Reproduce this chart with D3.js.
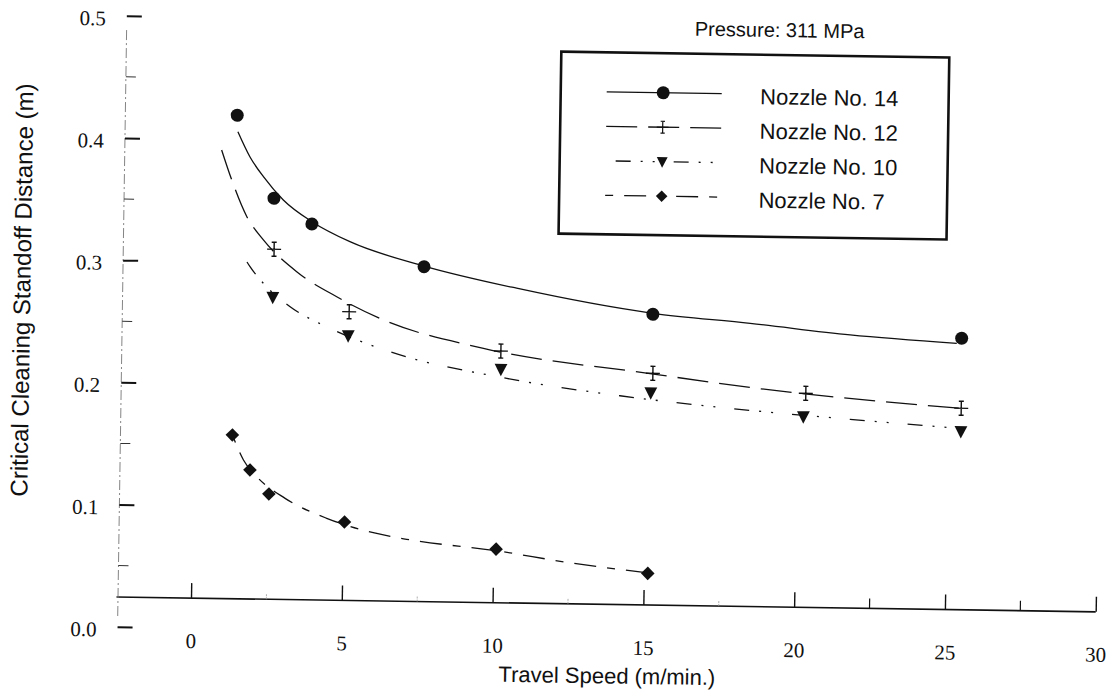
<!DOCTYPE html>
<meta charset="utf-8">
<style>
    body { margin: 0; background: #fff; }
    svg { display: block; }
    .num { font-family: 'Liberation Serif', 'Times New Roman', serif; font-size: 21px; fill: #111; }
    .lbl { font-family: 'Liberation Sans', Arial, sans-serif; fill: #111; }
</style>
<body>
<svg id="chart"></svg>
<script src="https://cdn.jsdelivr.net/npm/d3@7/dist/d3.min.js"></script>
<script>

// measured points (travel speed m/min, standoff distance m)
var speed14 = [1.29, 2.55, 3.82, 7.56, 15.17, 25.42];
var dist14 = [0.420, 0.3525, 0.3319, 0.2984, 0.2623, 0.2465];
var speed12 = [2.58, 5.10, 10.15, 15.20, 20.28, 25.44];
var dist12 = [0.3108, 0.2606, 0.2303, 0.2140, 0.1995, 0.1892];
var speed10 = [2.56, 5.08, 10.16, 15.14, 20.21, 25.44];
var dist10 = [0.2714, 0.2410, 0.2154, 0.1981, 0.1804, 0.1701];
var speed7 = [1.29, 1.89, 2.53, 5.05, 10.09, 15.13];
var dist7 = [0.1583, 0.1299, 0.1105, 0.0885, 0.0682, 0.0502];

// fitted curves
var fitSpeed14 = [1.32, 1.73, 2.19, 2.86, 3.82, 5.09, 7.56, 10.64, 15.17, 18.40, 21.72, 25.26];
var fitDist14 = [0.4065, 0.3862, 0.3700, 0.3512, 0.3338, 0.3179, 0.2989, 0.2819, 0.2631, 0.2561, 0.2478, 0.2423];
var fitSpeed12 = [0.79, 1.14, 1.66, 2.22, 3.34, 4.68, 6.24, 9.57, 15.22, 18.43, 22.86, 25.44];
var fitDist12 = [0.3914, 0.3670, 0.3371, 0.3183, 0.2927, 0.2727, 0.2543, 0.2323, 0.2134, 0.2036, 0.1936, 0.1892];
var fitSpeed10 = [1.51, 1.79, 2.24, 3.14, 4.47, 6.47, 10.36, 14.12, 17.89, 21.76, 25.25];
var fitDist10 = [0.3071, 0.2962, 0.2828, 0.2640, 0.2468, 0.2284, 0.2080, 0.1952, 0.1860, 0.1788, 0.1730];
var fitSpeed7 = [1.29, 1.67, 2.12, 3.07, 4.46, 6.01, 7.12, 10.09, 12.52, 15.13];
var fitDist7 = [0.1583, 0.1380, 0.1245, 0.1071, 0.0913, 0.0801, 0.0751, 0.0669, 0.0580, 0.0507];

var xTicks = [0, 5, 10, 15, 20, 25, 30];
var xMinorFaint = [2.5, 7.5, 12.5, 17.5];
var xMinor = [22.5, 27.5];
var yTicks = [0, 0.1, 0.2, 0.3, 0.4, 0.5];
var yMinor = [0.05, 0.15, 0.25, 0.35, 0.45];
var nozzleNames = ["Nozzle No. 14", "Nozzle No. 12", "Nozzle No. 10", "Nozzle No. 7"];

var width = 1111, height = 696;

var svg = d3.select("#chart").attr("width", width).attr("height", height);
svg.append("rect").attr("width", width).attr("height", height).attr("fill", "#fff");

// the scanned page is a bit tilted -> rotate everything about the axis corner
var g = svg.append("g").attr("transform", "translate(118,597) rotate(0.87)");

var x = d3.scaleLinear().domain([0, 30]).range([73, 977.8]);
var y = d3.scaleLinear().domain([0, 0.5]).range([29.7, -581.3]);

// X axis (ticks point up, line sits above the 0.0 level like in the original)
var xa = g.append("g")
    .call(d3.axisBottom(x).tickValues(xTicks).tickSize(-15).tickPadding(35).tickFormat(d3.format("d")));
xa.select(".domain").remove();
xa.selectAll("line").attr("stroke", "#111").attr("stroke-width", 1.4);
xa.selectAll("text").attr("class", "num");
xa.attr("font-size", null).attr("font-family", null);

g.append("line")
    .attr("x1", -1.5).attr("x2", x(30)).attr("y1", 0).attr("y2", 0)
    .attr("stroke", "#111").attr("stroke-width", 1.6);

g.selectAll(".xminorfaint").data(xMinorFaint).enter().append("line")
    .attr("x1", function (d) { return x(d); }).attr("x2", function (d) { return x(d); })
    .attr("y1", 0).attr("y2", -6)
    .attr("stroke", "#999").attr("stroke-width", 0.8).attr("stroke-dasharray", "2,1");
g.selectAll(".xminor").data(xMinor).enter().append("line")
    .attr("x1", function (d) { return x(d); }).attr("x2", function (d) { return x(d); })
    .attr("y1", 0).attr("y2", -10)
    .attr("stroke", "#111").attr("stroke-width", 1.2);

// Y axis: faint broken line, ticks point right
g.append("line")
    .attr("x1", 0).attr("x2", 0).attr("y1", -567).attr("y2", 20)
    .attr("stroke", "#777").attr("stroke-width", 0.9).attr("stroke-dasharray", "10,3,2,3");

var ya = g.append("g")
    .call(d3.axisLeft(y).tickValues(yTicks).tickSize(-15).tickPadding(21).tickFormat(d3.format(".1f")));
ya.select(".domain").remove();
ya.selectAll("line").attr("stroke", "#111").attr("stroke-width", 2);
ya.selectAll("text").attr("class", "num").attr("dy", "0.45em");
ya.attr("font-size", null).attr("font-family", null);

g.selectAll(".yminor").data(yMinor).enter().append("line")
    .attr("x1", 0).attr("x2", 10)
    .attr("y1", function (d) { return y(d); }).attr("y2", function (d) { return y(d); })
    .attr("stroke", "#333").attr("stroke-width", 1);

// titles
g.append("text").attr("class", "lbl")
    .attr("transform", "translate(-100.7,-305.5) rotate(-90)")
    .attr("text-anchor", "middle").attr("dy", "0.35em")
    .attr("font-size", 24)
    .text("Critical Cleaning Standoff Distance (m)");

g.append("text").attr("class", "lbl")
    .attr("x", 490).attr("y", 79)
    .attr("text-anchor", "middle").attr("font-size", 22)
    .text("Travel Speed (m/min.)");

g.append("text").attr("class", "lbl")
    .attr("x", 653).attr("y", -570)
    .attr("text-anchor", "middle").attr("font-size", 20)
    .text("Pressure: 311 MPa");

// series
var markerPath = {
    circle: d3.symbol(d3.symbolCircle, Math.PI * 6.5 * 6.5)(),
    plus: "M-7,0H7M0,-7V7M-2.5,-7H2.5M-2.5,7H2.5",
    tri: "M-6.4,-5.4L6.4,-5.4L0,7Z",
    diamond: "M0,-6.8L6.8,0L0,6.8L-6.8,0Z"
};

var series = [
    { name: nozzleNames[0], sx: speed14, sy: dist14, fx: fitSpeed14, fy: fitDist14, dash: null, off: 0, mk: "circle" },
    { name: nozzleNames[1], sx: speed12, sy: dist12, fx: fitSpeed12, fy: fitDist12, dash: "31,11", off: 0, mk: "plus" },
    { name: nozzleNames[2], sx: speed10, sy: dist10, fx: fitSpeed10, fy: fitDist10, dash: "15,10,2,10,2,19", off: 48, mk: "tri" },
    { name: nozzleNames[3], sx: speed7, sy: dist7, fx: fitSpeed7, fy: fitDist7, dash: "22,11,8,11", off: 33, mk: "diamond" }
];

var line = d3.line()
    .x(function (d) { return x(d[0]); })
    .y(function (d) { return y(d[1]); })
    .curve(d3.curveMonotoneX);

function styleMarker(sel, mk) {
    if (mk == "plus") {
        sel.attr("fill", "none").attr("stroke", "#111").attr("stroke-width", 1.4);
    } else {
        sel.attr("fill", "#111").attr("stroke", "none");
    }
}

series.forEach(function (s) {
    var pts = d3.zip(s.fx, s.fy);
    g.append("path")
        .attr("d", line(pts))
        .attr("fill", "none")
        .attr("stroke", "#111")
        .attr("stroke-width", 1.3)
        .attr("stroke-dasharray", s.dash)
        .attr("stroke-dashoffset", s.off);

    var m = g.selectAll(null).data(d3.zip(s.sx, s.sy)).enter().append("path")
        .attr("d", markerPath[s.mk])
        .attr("transform", function (d) { return "translate(" + x(d[0]) + "," + y(d[1]) + ")"; });
    styleMarker(m, s.mk);
});

// legend
var lg = g.append("g").attr("transform", "translate(435,-552)");
lg.append("rect")
    .attr("width", 388).attr("height", 182)
    .attr("fill", "none").attr("stroke", "#111").attr("stroke-width", 2.6);

var rows = lg.selectAll(".row").data(series).enter().append("g")
    .attr("transform", function (d, i) { return "translate(46," + (39.5 + i * 34.5) + ")"; });

rows.append("line")
    .attr("x1", 0).attr("x2", 115)
    .attr("stroke", "#111").attr("stroke-width", 1.3)
    .attr("stroke-dasharray", function (d) { return d.dash; })
    .attr("stroke-dashoffset", function (d) { return d.off; });

rows.each(function (d) {
    var m = d3.select(this).append("path")
        .attr("d", markerPath[d.mk])
        .attr("transform", "translate(56.5,0) scale(" + (d.mk == "circle" ? 1 : 0.85) + ")");
    styleMarker(m, d.mk);
});

rows.append("text").attr("class", "lbl")
    .attr("x", 153.5).attr("y", 10)
    .attr("font-size", 22)
    .text(function (d) { return d.name; });

</script>
</body>
